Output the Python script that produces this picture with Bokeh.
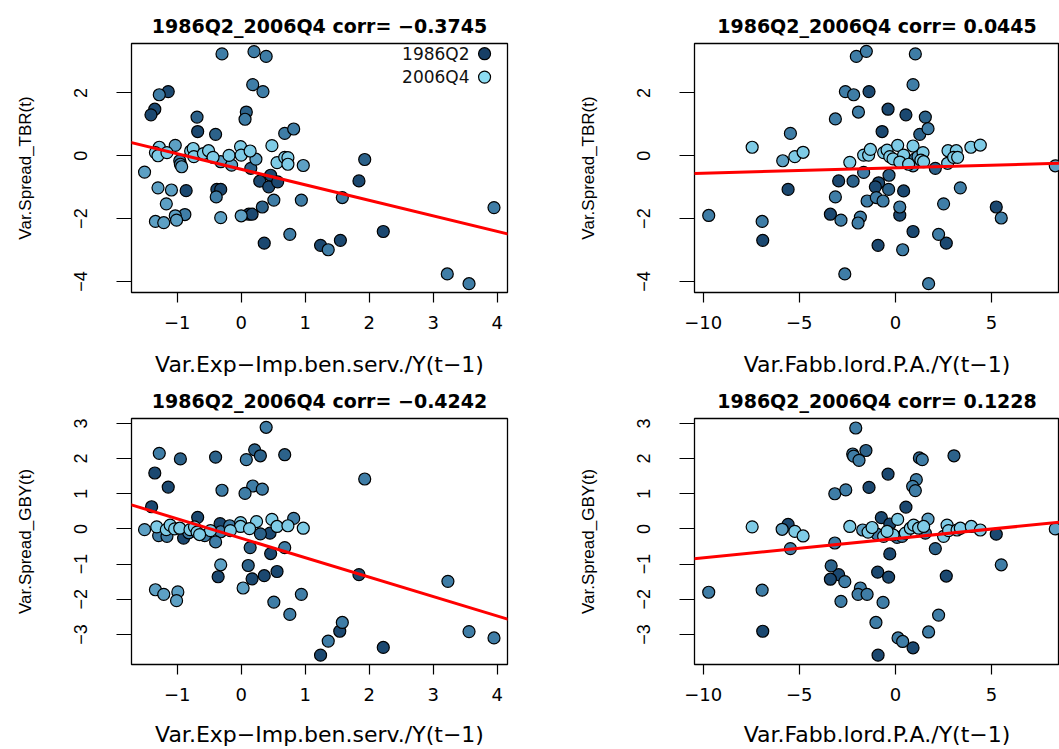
import numpy as np
from bokeh.plotting import figure
from bokeh.layouts import row, column
from bokeh.models import FixedTicker, Range1d, Slope, Label
from bokeh.embed import file_html
from bokeh.resources import INLINE

# ---------------- data ----------------
# shade: 0 = darkest (early quarters, 1986Q2) ... 4 = lightest (late quarters, 2006Q4)
shade_palette = ["#1b4870", "#2c628a", "#3f7da6", "#5da0c4", "#7ecbe6"]
legend_labels = ["1986Q2", "2006Q4"]
legend_colors = ["#173f66", "#8cdcf3"]

titles = ["1986Q2_2006Q4 corr= \u22120.3745", "1986Q2_2006Q4 corr= 0.0445",
          "1986Q2_2006Q4 corr= \u22120.4242", "1986Q2_2006Q4 corr= 0.1228"]
x_labels = ["Var.Exp\u2212Imp.ben.serv./Y(t\u22121)", "Var.Fabb.lord.P.A./Y(t\u22121)"]
y_labels = ["Var.Spread_TBR(t)", "Var.Spread_GBY(t)"]
x_ticks_exp = [-1, 0, 1, 2, 3, 4]
x_ticks_fabb = [-10, -5, 0, 5]
y_ticks_tbr = [-4, -2, 0, 2]
y_ticks_gby = [-3, -2, -1, 0, 1, 2, 3]

# panel 1: Exp-Imp vs Spread_TBR
p1_x = [-0.30, 0.20, 0.39, -1.28, -1.14, 0.18, 0.34, -1.35, -1.41, -0.69, 0.08, 0.06, -0.68, -0.40, 0.68, 0.82,
        -1.28, -1.34, -1.30, -1.16, -1.03, -1.51, -0.96, -0.95, -0.93, -0.79, -0.75, -0.74, -0.59, -0.51, -0.44,
        -0.32, -0.19, -0.15, -0.01, 0.00, 0.14, 0.15, 0.23, 0.48, 0.46, 0.29, 0.43, 0.57, 0.56, 0.68, 0.73, 0.73,
        0.97, -1.30, -1.09, -0.86, -0.38, -0.32, -0.39, -1.17, -1.34, -1.21, -1.03, -1.01, -0.88, -0.32, 0.00,
        0.12, 0.17, 0.33, 0.51, 0.94, 1.58, 1.93, 1.84, 0.36, 0.76, 1.24, 1.36, 1.55, 2.22, 3.22, 3.56, 3.95]
p1_y = [3.24, 3.31, 3.16, 1.94, 2.04, 2.26, 2.04, 1.48, 1.30, 1.23, 1.39, 1.16, 0.77, 0.68, 0.71, 0.85,
        0.27, 0.10, 0.00, 0.10, 0.33, -0.52, -0.16, -0.27, -0.35, 0.15, 0.23, -0.03, 0.07, 0.16, -0.05,
        -0.19, 0.01, -0.30, 0.29, 0.02, 0.15, -0.40, -0.11, 0.32, -0.62, -0.81, -0.99, -0.83, -0.22, -0.05, -0.06,
        -0.27, -0.31, -1.02, -1.09, -1.11, -1.07, -1.07, -1.31, -1.53, -2.09, -2.13, -1.91, -2.05, -1.87, -1.97,
        -1.91, -1.86, -1.86, -1.63, -1.41, -1.41, -1.33, -0.12, -0.80, -2.78, -2.50, -2.85, -2.99, -2.69, -2.41,
        -3.76, -4.07, -1.65]
p1_shade = [2, 2, 2, 2, 0, 2, 2, 0, 0, 1, 1, 2, 0, 1, 2, 2,
            4, 4, 4, 4, 3, 3, 2, 2, 3, 4, 4, 4, 4, 4, 4,
            3, 4, 3, 4, 4, 4, 1, 3, 4, 0, 0, 0, 0, 4, 4, 4, 4,
            3, 3, 3, 0, 0, 0, 2, 3, 3, 3, 3, 3, 2, 3, 3,
            0, 0, 1, 2, 2, 2, 1, 0, 0, 2, 0, 2, 0, 0, 2, 2, 2]

# panel 2: Fabb.lord.P.A. vs Spread_TBR
p2_x = [-2.03, -1.51, 1.04, -2.60, -2.17, -1.37, 0.92, -1.92, -0.38, 0.55, 1.56, -3.12, 1.70, 1.27, -5.46, -0.69,
        -7.45, -5.86, -5.23, -4.80, -2.37, -1.65, -5.58, -2.95, -2.20, -3.12, -3.38, -2.83, -1.82, -1.94, -1.47,
        -0.99, -0.64, -0.87, -1.04, -0.35, -0.33, 0.43, 0.23, 0.23, -1.65, -1.39, -1.30, -0.61, -0.43, -0.29,
        -0.12, 0.12, 0.43, 0.23, 0.69, 0.92, 0.92, 1.04, 1.18, 1.44, 1.33, 1.47, 2.08, 2.72, 2.74, 3.17, 3.03,
        3.24, 3.93, 4.42, 3.38, 2.51, 5.25, 5.51, 2.25, 2.65, 0.92, -0.90, 0.38, -2.63, 1.73, -9.71, -6.93, -6.90,
        8.32]
p2_y = [3.16, 3.32, 3.24, 2.04, 1.94, 2.04, 2.26, 1.39, 1.48, 1.30, 1.23, 1.17, 0.86, 0.68, 0.71, 0.77,
        0.27, -0.16, -0.03, 0.11, -0.21, -0.53, -1.07, -0.80, -0.81, -1.31, -1.86, -2.05, -1.95, -2.14, -1.44,
        -1.33, -1.44, -0.86, -0.99, -1.07, -0.62, -1.12, -1.63, -1.89, 0.02, 0.02, 0.20, 0.10, 0.18, -0.03,
        -0.10, 0.33, 0.02, -0.20, -0.27, -0.32, 0.31, -0.09, -0.03, 0.10, -0.14, -0.19, -0.40, -0.24, 0.16, 0.16,
        -0.05, -0.05, 0.27, 0.34, -1.02, -1.53, -1.63, -1.98, -2.50, -2.78, -2.41, -2.85, -2.99, -3.76, -4.07,
        -1.90, -2.09, -2.69, -0.32]
p2_shade = [2, 2, 2, 2, 2, 0, 2, 2, 0, 0, 1, 2, 2, 1, 2, 0,
            4, 3, 4, 4, 4, 2, 0, 0, 1, 2, 0, 2, 2, 2, 2,
            2, 2, 0, 0, 1, 1, 0, 2, 0, 4, 4, 4, 4, 4, 4,
            4, 4, 4, 4, 4, 3, 4, 2, 3, 4, 4, 4, 1, 4, 4, 4, 4,
            4, 4, 4, 2, 2, 0, 2, 2, 0, 0, 0, 2, 2, 2, 2, 2, 0,
            3]

# panel 3: Exp-Imp vs Spread_GBY
p3_x = [0.39, 0.21, 0.30, 0.08, -1.28, -0.95, -0.40, 0.68, -1.35, -1.14, -0.30, 0.18, 0.33, 0.06, 1.93, -1.40,
        -0.68, -0.33, 0.82, 0.48, 0.24, -0.01, -0.01, 0.13, 0.56, 0.73, 0.97, -1.51, -1.32, -1.29, -1.16, -1.17,
        -1.11, -1.04, -0.96, -0.90, -0.80, -0.73, -0.69, -0.57, -0.48, -0.32, -0.17, -0.40, 0.30, 0.45, 0.14,
        0.68, 0.46, -0.32, 0.11, -0.36, 0.17, 0.36, 0.56, 0.03, -1.34, -1.21, -0.99, -1.01, 0.51, 0.94, 0.76,
        1.84, 3.23, 1.58, 1.54, 1.36, 1.24, 2.22, 3.56, 3.95, -0.82, -0.65, -0.18]
p3_y = [2.89, 2.25, 2.08, 1.97, 2.15, 1.99, 2.04, 2.11, 1.59, 1.19, 1.10, 1.22, 1.13, 1.01, 1.42, 0.63,
        0.33, 0.15, 0.30, 0.27, 0.21, 0.18, 0.07, 0.01, 0.07, 0.09, 0.02, -0.02, 0.06, -0.19, -0.21, -0.02,
        0.11, 0.00, 0.02, -0.26, -0.02, 0.06, -0.09, -0.19, -0.05, -0.08, -0.05, -0.37, -0.14, -0.12, -0.53,
        -0.53, -0.70, -1.02, -1.04, -1.36, -1.42, -1.33, -1.21, -1.68, -1.73, -1.86, -1.79, -2.04, -2.08, -1.86,
        -2.43, -1.30, -1.49, -2.66, -2.91, -3.19, -3.59, -3.37, -2.92, -3.10, -0.11, -0.16, 0.09]
p3_shade = [2, 1, 1, 2, 2, 1, 1, 1, 0, 0, 2, 2, 2, 2, 2, 0,
            0, 0, 2, 4, 4, 4, 4, 4, 4, 4, 4, 3, 4, 2, 2, 4,
            4, 4, 4, 0, 4, 4, 4, 2, 4, 2, 4, 2, 1, 0, 1,
            2, 0, 3, 1, 0, 0, 0, 0, 3, 3, 3, 3, 3, 2, 2, 2,
            0, 2, 2, 0, 2, 0, 0, 2, 2, 2, 4, 2]

# panel 4: Fabb.lord.P.A. vs Spread_GBY
p4_x = [-2.06, -2.22, -2.17, -1.89, -1.53, 1.25, 1.40, 3.05, -0.38, 1.09, 0.90, 1.04, -3.15, -2.58, -1.37, 0.55,
        -0.73, -0.29, 0.12, 1.70, -7.45, -5.89, -5.58, -5.23, -4.80, -5.46, -2.37, -1.70, -1.42, -1.21, -0.95,
        -0.61, -0.29, -0.12, 0.09, 0.35, 0.52, 0.78, 0.95, 1.21, 1.47, 1.56, 2.08, 2.51, 2.69, 2.77, 3.21, 3.38,
        3.95, 4.42, 5.25, 5.51, 8.32, -3.15, -3.34, -2.95, -3.38, -2.63, -1.82, -1.94, -1.47, -2.83, -0.92, -0.35,
        -0.29, -0.64, -1.01, -0.90, 0.14, 0.38, 0.92, 1.73, 2.25, 2.65, -9.71, -6.93, -6.90, -0.43]
p4_y = [2.87, 2.13, 2.07, 1.95, 2.23, 2.02, 1.97, 2.08, 1.56, 1.40, 1.21, 1.09, 1.00, 1.11, 1.18, 0.62,
        0.32, 0.14, 0.27, 0.28, 0.06, -0.01, 0.13, -0.07, -0.20, -0.56, 0.07, -0.03, -0.09, 0.04, -0.15,
        -0.21, -0.12, -0.17, -0.24, -0.21, -0.12, 0.02, 0.11, 0.02, 0.07, -0.12, -0.56, -0.21, 0.11, -0.05, -0.03,
        0.02, 0.07, -0.03, -0.15, -1.02, 0.00, -0.40, -1.05, -1.30, -1.43, -1.50, -1.68, -1.86, -1.86, -2.06,
        -1.23, -1.37, -0.71, -2.09, -2.66, -3.59, -3.10, -3.20, -3.38, -2.93, -2.45, -1.34, -1.80, -1.74, -2.91,
        -0.07]
p4_shade = [2, 2, 2, 2, 1, 1, 2, 1, 0, 2, 2, 2, 2, 2, 0, 0,
            0, 0, 4, 3, 4, 3, 0, 4, 4, 2, 4, 3, 4, 4, 2,
            4, 4, 4, 2, 2, 4, 4, 4, 4, 4, 2, 1, 4, 4, 4, 4, 4,
            4, 4, 0, 2, 3, 2, 1, 0, 0, 2, 2, 2, 2, 2, 0, 0,
            0, 2, 2, 0, 2, 2, 0, 2, 2, 0, 2, 2, 0, 4]

# axis ranges (as drawn)
xr_exp = (-1.714, 4.161)
xr_fabb = (-10.45, 8.54)
yr_tbr = (-4.35, 3.57)
yr_gby = (-3.855, 3.14)


def fmt(t):
    return str(t).replace("-", "\u2212")


def make_panel(x, y, shade, xr, yr, xt, yt, title, xlab, ylab, width, height,
               bl, br, bt, bb, title_standoff, xlab_standoff, title_offset):
    p = figure(width=width, height=height, x_range=Range1d(*xr), y_range=Range1d(*yr),
               output_backend="svg", toolbar_location=None, title=title,
               min_border_left=bl, min_border_right=br, min_border_top=bt, min_border_bottom=bb)
    p.grid.visible = False
    p.outline_line_color = "black"
    p.outline_line_width = 1.3
    p.background_fill_color = "white"
    p.border_fill_color = "white"

    p.title.text_font = "DejaVu Sans"
    p.title.text_font_style = "bold"
    p.title.text_font_size = "19px"
    p.title.text_color = "black"
    p.title.align = "center"
    p.title.standoff = title_standoff
    p.title.offset = title_offset

    for ax in (p.xaxis[0], p.yaxis[0]):
        ax.axis_line_color = None
        ax.major_tick_line_color = "black"
        ax.major_tick_line_width = 1.2
        ax.minor_tick_line_color = None
        ax.major_tick_in = 0
        ax.major_label_text_color = "black"
        ax.axis_label_text_color = "black"
        ax.axis_label_text_font_style = "normal"

    xa = p.xaxis[0]
    xa.ticker = FixedTicker(ticks=xt)
    xa.major_label_overrides = {t: fmt(t) for t in xt}
    xa.major_tick_out = 10
    xa.major_label_standoff = 13
    xa.major_label_text_font = "DejaVu Sans"
    xa.major_label_text_font_size = "18px"
    xa.axis_label = xlab
    xa.axis_label_text_font = "DejaVu Sans"
    xa.axis_label_text_font_size = "22px"
    xa.axis_label_standoff = xlab_standoff

    ya = p.yaxis[0]
    ya.ticker = FixedTicker(ticks=yt)
    ya.major_label_overrides = {t: fmt(t) for t in yt}
    ya.major_tick_out = 15
    ya.major_label_standoff = 29
    ya.major_label_orientation = "parallel"
    ya.major_label_text_font = "Liberation Sans"
    ya.major_label_text_font_size = "18px"
    ya.axis_label = ylab
    ya.axis_label_text_font = "Liberation Sans"
    ya.axis_label_text_font_size = "17px"
    ya.axis_label_standoff = 37

    xs = np.asarray(x, dtype=float)
    ys = np.asarray(y, dtype=float)
    sh = np.asarray(shade)
    order = np.argsort(sh, kind="stable")
    cols = np.array([shade_palette[s] for s in sh])
    p.scatter(xs[order], ys[order], size=12, fill_color=cols[order],
              line_color="black", line_width=1.2)

    b, a = np.polyfit(xs, ys, 1)
    p.add_layout(Slope(gradient=b, y_intercept=a, line_color="#ff0000", line_width=3))
    return p


p1 = make_panel(p1_x, p1_y, p1_shade, xr_exp, yr_tbr, x_ticks_exp, y_ticks_tbr, titles[0],
                x_labels[0], y_labels[0], 565, 380, 131, 58, 43, 88, 14, 20, 0)
p2 = make_panel(p2_x, p2_y, p2_shade, xr_fabb, yr_tbr, x_ticks_fabb, y_ticks_tbr, titles[1],
                x_labels[1], y_labels[0], 494, 380, 129, 0, 43, 88, 14, 20, 6)
p3 = make_panel(p3_x, p3_y, p3_shade, xr_exp, yr_gby, x_ticks_exp, y_ticks_gby, titles[2],
                x_labels[0], y_labels[1], 565, 369, 131, 58, 37, 82, 14, 18, 0)
p4 = make_panel(p4_x, p4_y, p4_shade, xr_fabb, yr_gby, x_ticks_fabb, y_ticks_gby, titles[3],
                x_labels[1], y_labels[1], 494, 369, 129, 0, 37, 82, 14, 18, 6)

# legend (text followed by a dot), inside the top-right corner of panel 1
xspan = xr_exp[1] - xr_exp[0]
yspan = yr_tbr[1] - yr_tbr[0]
leg_text_x = xr_exp[1] - 0.101 * xspan
leg_dot_x = xr_exp[1] - 0.061 * xspan
leg_y = [yr_tbr[1] - 0.041 * yspan, yr_tbr[1] - 0.135 * yspan]
for lab, ly in zip(legend_labels, leg_y):
    p1.add_layout(Label(x=leg_text_x, y=ly, text=lab, text_align="right", text_baseline="middle",
                        text_font="DejaVu Sans", text_font_size="17px", text_color="#111111"))
p1.scatter([leg_dot_x, leg_dot_x], leg_y, size=12, fill_color=legend_colors,
           line_color="black", line_width=1.2)

layout = column(row(p1, p2), row(p3, p4))
open("out.html", "w").write(file_html(layout, INLINE))
